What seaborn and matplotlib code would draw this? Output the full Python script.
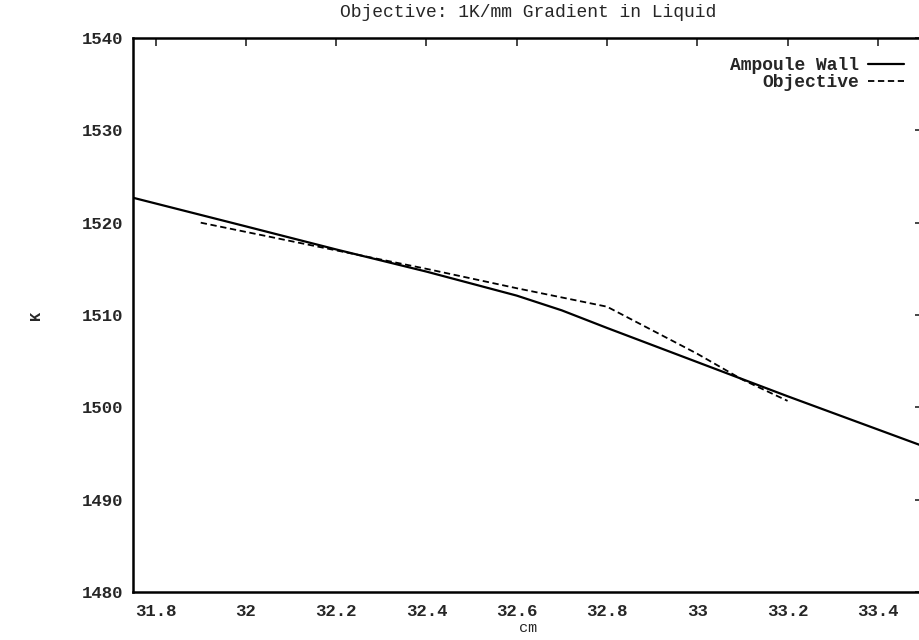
import numpy as np
import pandas as pd
import matplotlib
matplotlib.use("Agg")
import matplotlib.pyplot as plt
import seaborn as sns

# Ampoule wall temperature profile (cm, K)
wall_cm = [31.75, 32.0, 32.2, 32.4, 32.6, 32.7, 32.8, 33.0, 33.2, 33.5]
wall_k = [1522.7, 1519.6, 1517.1, 1514.7, 1512.1, 1510.5, 1508.6, 1504.9, 1501.2, 1495.8]

# Objective profile (cm, K)
obj_cm = [31.9, 32.2, 32.4, 32.6, 32.8, 33.0, 33.1, 33.2]
obj_k = [1520.0, 1517.0, 1515.0, 1512.9, 1510.9, 1505.8, 1503.0, 1500.7]

x_ticks = [31.8, 32.0, 32.2, 32.4, 32.6, 32.8, 33.0, 33.2, 33.4]
x_tick_labels = ["31.8", "32", "32.2", "32.4", "32.6", "32.8", "33", "33.2", "33.4"]
y_ticks = [1480, 1490, 1500, 1510, 1520, 1530, 1540]

sns.set_style("white")
plt.rcParams["font.family"] = ["Liberation Mono", "DejaVu Sans Mono"]

wall_df = pd.DataFrame({"cm": wall_cm, "K": wall_k})
obj_df = pd.DataFrame({"cm": obj_cm, "K": obj_k})

fig = plt.figure(figsize=(9.19, 6.4), dpi=100)
ax = fig.add_axes([133 / 919, 48 / 640, 790 / 919, 554 / 640])

sns.lineplot(data=wall_df, x="cm", y="K", ax=ax, color="black", lw=1.6,
             label="Ampoule Wall", sort=False)
sns.lineplot(data=obj_df, x="cm", y="K", ax=ax, color="black", lw=1.3,
             label="Objective", sort=False)
ax.lines[1].set_dashes([3.5, 2])

ax.set_xlim(31.75, 33.5)
ax.set_ylim(1480, 1540)
ax.set_xticks(x_ticks)
ax.set_xticklabels(x_tick_labels)
ax.set_yticks(y_ticks)

ax.tick_params(direction="in", length=6, width=1.2, top=True, right=True,
               labelsize=12.5, pad=7)
ax.tick_params(axis="x", pad=9)
for lab in ax.get_xticklabels() + ax.get_yticklabels():
    lab.set_fontweight("bold")
for sp in ax.spines.values():
    sp.set_linewidth(1.8)
    sp.set_color("black")

ax.set_title("Objective: 1K/mm Gradient in Liquid", fontsize=13, pad=15)
ax.set_xlabel("cm", fontsize=11, labelpad=1)
ax.set_ylabel("K", fontsize=11, fontweight="bold", labelpad=28)

leg = ax.legend(loc="upper right", bbox_to_anchor=(0.99, 0.985), frameon=False,
                markerfirst=False, handlelength=2.0, handletextpad=0.5,
                labelspacing=0.0, borderaxespad=0.2,
                prop={"family": "Liberation Mono", "weight": "bold", "size": 13})
for t in leg.get_texts():
    t.set_ha("right")
leg._legend_box.align = "right"

fig.savefig("out.png", dpi=100)
